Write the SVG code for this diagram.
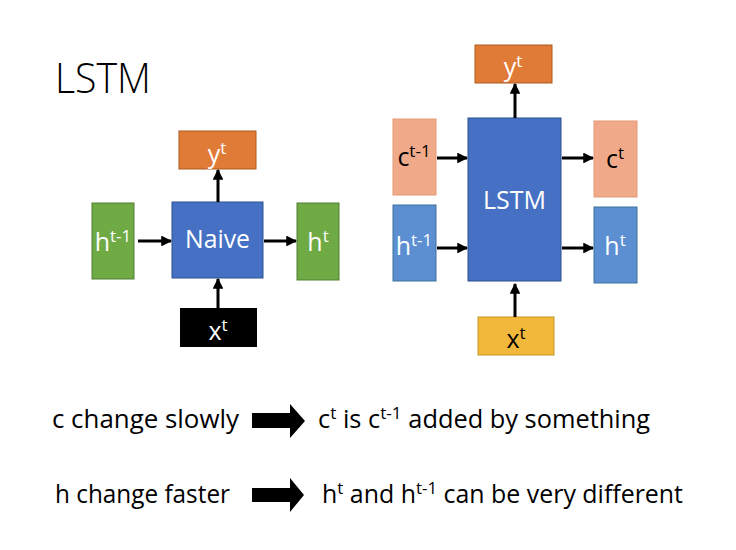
<svg xmlns="http://www.w3.org/2000/svg" width="736" height="550" viewBox="0 0 736 550">
<defs>
<marker id="ah" viewBox="0 0 10 10" refX="9" refY="5" markerWidth="3.6" markerHeight="3.6" orient="auto" markerUnits="strokeWidth">
<path d="M0,0 L10,5 L0,10 z" fill="#000"/>
</marker>
<style>
.t{font-family:"Open Sans","Liberation Sans",sans-serif;}
.w{fill:#fff;font-size:25px;}
.k{fill:#000;font-size:25px;}
.sup{font-size:17px;}
.conn line{stroke:#000;stroke-width:3;marker-end:url(#ah);}
.body{font-size:25px;fill:#000;}
</style>
</defs>
<rect width="736" height="550" fill="#fff"/>
<text class="t" x="55" y="93" font-size="42" font-weight="300" fill="#000" textLength="96" lengthAdjust="spacingAndGlyphs">LSTM</text>

<!-- Naive side -->
<g id="naive-y">
<rect x="179" y="131" width="77" height="38" fill="#E07A37" stroke="#AE5A21"/>
<text class="t w" x="217" y="163" text-anchor="middle">y<tspan class="sup" dy="-9">t</tspan></text>
</g>
<g id="naive">
<rect x="172" y="202" width="91" height="76" fill="#4570C4" stroke="#2F528F"/>
<text class="t w" x="217.5" y="248" text-anchor="middle" textLength="65" lengthAdjust="spacingAndGlyphs">Naive</text>
</g>
<g id="naive-hprev">
<rect x="92" y="203" width="42" height="76" fill="#6FAA45" stroke="#507E32"/>
<text class="t w" x="113" y="251" text-anchor="middle">h<tspan class="sup" dy="-9">t-1</tspan></text>
</g>
<g id="naive-h">
<rect x="297" y="203" width="42" height="77" fill="#6FAA45" stroke="#507E32"/>
<text class="t w" x="318" y="251" text-anchor="middle">h<tspan class="sup" dy="-9">t</tspan></text>
</g>
<g id="naive-x">
<rect x="180" y="308" width="77" height="39" fill="#000"/>
<text class="t w" x="218" y="340" text-anchor="middle">x<tspan class="sup" dy="-9">t</tspan></text>
</g>

<!-- LSTM side -->
<g id="lstm-y">
<rect x="475" y="45" width="77" height="38" fill="#E07A37" stroke="#AE5A21"/>
<text class="t w" x="513" y="76" text-anchor="middle">y<tspan class="sup" dy="-9">t</tspan></text>
</g>
<g id="lstm">
<rect x="468" y="118" width="93" height="163" fill="#4570C4" stroke="#2F528F"/>
<text class="t w" x="514.5" y="209" text-anchor="middle" textLength="63" lengthAdjust="spacingAndGlyphs">LSTM</text>
</g>
<g id="lstm-cprev">
<rect x="393" y="119" width="43" height="76" fill="#F0AA8A" stroke="#E39A78"/>
<text class="t k" x="414" y="166" text-anchor="middle">c<tspan class="sup" dy="-9">t-1</tspan></text>
</g>
<g id="lstm-hprev">
<rect x="393" y="205" width="43" height="76" fill="#5B8FD2" stroke="#41719C"/>
<text class="t w" x="414" y="255" text-anchor="middle">h<tspan class="sup" dy="-9">t-1</tspan></text>
</g>
<g id="lstm-c">
<rect x="594" y="121" width="43" height="76" fill="#F0AA8A" stroke="#E39A78"/>
<text class="t k" x="615" y="168" text-anchor="middle">c<tspan class="sup" dy="-9">t</tspan></text>
</g>
<g id="lstm-h">
<rect x="594" y="207" width="43" height="76" fill="#5B8FD2" stroke="#41719C"/>
<text class="t w" x="615" y="255" text-anchor="middle">h<tspan class="sup" dy="-9">t</tspan></text>
</g>
<g id="lstm-x">
<rect x="478" y="317" width="76" height="38" fill="#F2B83C" stroke="#C9951F"/>
<text class="t k" x="516" y="348" text-anchor="middle">x<tspan class="sup" dy="-9">t</tspan></text>
</g>

<g id="connectors" class="conn">
<line x1="218" y1="202" x2="218" y2="170"/>
<line x1="138" y1="241" x2="171" y2="241"/>
<line x1="264" y1="241" x2="296" y2="241"/>
<line x1="218" y1="308" x2="218" y2="279"/>
<line x1="515" y1="118" x2="515" y2="84"/>
<line x1="437" y1="158" x2="467" y2="158"/>
<line x1="437" y1="248" x2="467" y2="248"/>
<line x1="562" y1="158" x2="593" y2="158"/>
<line x1="562" y1="248" x2="593" y2="248"/>
<line x1="515" y1="317" x2="515" y2="284"/>
</g>

<!-- bottom text -->
<text class="t body" x="52" y="428" textLength="187" lengthAdjust="spacingAndGlyphs">c change slowly</text>
<path d="M252,413 H290 V404 L305,421 L290,438 V428 H252 Z" fill="#000"/>
<text class="t body" x="318" y="428" textLength="332" lengthAdjust="spacingAndGlyphs">c<tspan class="sup" dy="-9">t</tspan><tspan dy="9"> is c</tspan><tspan class="sup" dy="-9">t-1</tspan><tspan dy="9"> added by something</tspan></text>

<text class="t body" x="55" y="503" textLength="175" lengthAdjust="spacingAndGlyphs">h change faster</text>
<path d="M252,488 H290 V478 L304,495 L290,512 V502 H252 Z" fill="#000"/>
<text class="t body" x="322" y="503" textLength="361" lengthAdjust="spacingAndGlyphs">h<tspan class="sup" dy="-9">t</tspan><tspan dy="9"> and h</tspan><tspan class="sup" dy="-9">t-1</tspan><tspan dy="9"> can be very different</tspan></text>
</svg>
